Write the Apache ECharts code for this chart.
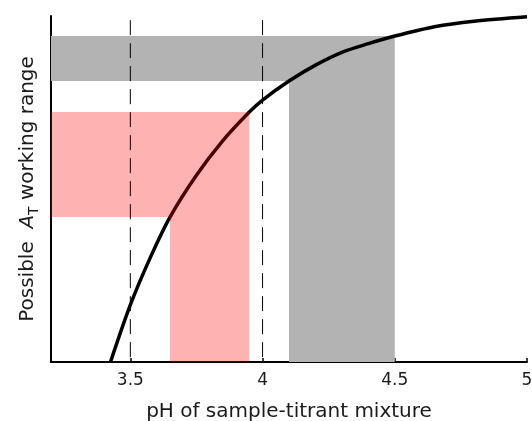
<!DOCTYPE html>
<html>
<head>
<meta charset="utf-8">
<script src="https://cdn.jsdelivr.net/npm/echarts@6/dist/echarts.min.js"></script>
<style>
	html, body { margin: 0; padding: 0; background: #fff; }
	#chart { width: 532px; height: 421px; }
</style>
</head>
<body>
<div id="chart"></div>
<script>
// data
const phValues = [3.425, 3.5, 3.575, 3.65, 3.75, 3.85, 3.95, 4.0, 4.1, 4.2, 4.3, 4.4, 4.5, 4.65, 4.8, 5.0];
const atValues = [0, 0.165, 0.301, 0.419, 0.54, 0.64, 0.7225, 0.757, 0.812, 0.858, 0.895, 0.92, 0.942, 0.969, 0.985, 0.998];
const xTicks = [3.5, 4, 4.5, 5];
const refPH = [3.5, 4];
const refTop = 0.988;
// working ranges: [pH from, pH to, A_T from, A_T to]
const grayRange = [4.1, 4.5, 0.812, 0.942];
const pinkRange = [3.65, 3.95, 0.419, 0.7225];

const X_MIN = 3.2, X_MAX = 5, Y_MIN = 0, Y_MAX = 1;
const FONT = '"DejaVu Sans", Verdana, sans-serif';
const TEXT = '#1a1a1a';

const chart = echarts.init(document.getElementById('chart'));

// L-shaped band: horizontal strip from the y axis to the curve, vertical strip down to the x axis
function renderBand(params, api) {
	const x0 = api.value(0), x1 = api.value(1), y0 = api.value(2), y1 = api.value(3);
	const pts = [[X_MIN, y1], [x1, y1], [x1, Y_MIN], [x0, Y_MIN], [x0, y0], [X_MIN, y0]]
		.map(p => api.coord(p));
	return { type: 'polygon', shape: { points: pts }, style: api.style() };
}

const curve = phValues.map((v, i) => [v, atValues[i]]);

chart.setOption({
	animation: false,
	textStyle: { fontFamily: FONT },
	grid: { left: 51, right: 5, top: 16, bottom: 59, outerBoundsMode: 'none' },
	xAxis: {
		type: 'value', min: X_MIN, max: X_MAX,
		name: 'pH of sample-titrant mixture', nameLocation: 'middle', nameGap: 40,
		nameTextStyle: { fontSize: 20, color: TEXT, fontFamily: FONT },
		splitLine: { show: false },
		axisLine: { lineStyle: { color: '#000', width: 2 } },
		axisTick: { inside: true, length: 4, lineStyle: { color: '#000', width: 1.5 }, customValues: xTicks },
		axisLabel: { fontSize: 17, color: TEXT, margin: 10, customValues: xTicks, fontFamily: FONT }
	},
	yAxis: {
		type: 'value', min: Y_MIN, max: Y_MAX,
		name: '{a|Possible  }{i|A}{s|T}{a| working range}',
		nameLocation: 'middle', nameGap: 10, nameRotate: 90,
		nameTextStyle: {
			color: TEXT, fontFamily: FONT, fontSize: 20,
			rich: {
				a: { fontSize: 20, lineHeight: 26, color: TEXT, fontFamily: FONT },
				i: { fontSize: 20, lineHeight: 26, fontStyle: 'italic', color: TEXT, fontFamily: FONT },
				s: { fontSize: 14, lineHeight: 14, verticalAlign: 'bottom', color: TEXT, fontFamily: FONT }
			}
		},
		splitLine: { show: false },
		axisTick: { show: false },
		axisLabel: { show: false },
		axisLine: { show: true, lineStyle: { color: '#000', width: 2 } }
	},
	series: [
		{
			type: 'custom', z: 1, silent: true,
			renderItem: renderBand,
			itemStyle: { color: '#b3b3b3' },
			data: [grayRange]
		},
		{
			type: 'line', z: 2, silent: true,
			data: curve, smooth: 0.3, symbol: 'none', clip: true,
			lineStyle: { color: '#000', width: 3.5 }
		},
		{
			type: 'custom', z: 3, silent: true,
			renderItem: renderBand,
			itemStyle: { color: 'rgba(255,0,0,0.3)' },
			data: [pinkRange]
		},
		...refPH.map(x => ({
			type: 'line', z: 4, silent: true,
			data: [[x, refTop], [x, Y_MIN]], symbol: 'none',
			lineStyle: { color: '#000', width: 1, type: [15, 8] }
		}))
	]
});
</script>
</body>
</html>
